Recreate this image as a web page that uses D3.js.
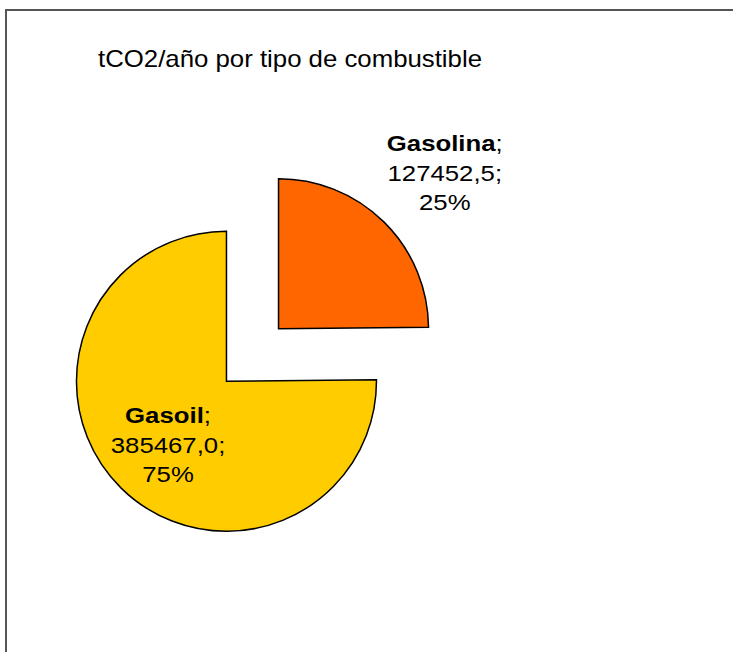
<!DOCTYPE html>
<html>
<head>
<meta charset="utf-8">
<script src="https://cdn.jsdelivr.net/npm/d3@7"></script>
<style>
  body { margin: 0; background: #fff; }
  text { font-family: "Liberation Sans", Arial, sans-serif; }
</style>
</head>
<body>
<div id="chart"></div>
<script>
// data
var categories = ["Gasolina", "Gasoil"];
var values = [127452.5, 385467.0];
var valueLabels = ["127452,5", "385467,0"];
var colors = ["#FF6600", "#FFCC00"];

var svgWidth = 733;
var svgHeight = 652;

var svg = d3.select("#chart")
  .append("svg")
  .attr("width", svgWidth)
  .attr("height", svgHeight);

// outer frame (right/bottom edges are cut off in the original)
svg.append("rect")
  .attr("x", 6)
  .attr("y", 10)
  .attr("width", 760)
  .attr("height", 700)
  .attr("fill", "none")
  .attr("stroke", "#555")
  .attr("stroke-width", 2);

svg.append("text")
  .attr("x", 98)
  .attr("y", 67)
  .style("font-size", "24px")
  .attr("textLength", 384)
  .attr("lengthAdjust", "spacingAndGlyphs")
  .attr("fill", "#000")
  .text("tCO2/año por tipo de combustible");

var cx = 252.5, cy = 355;
var radius = 150;
var explode = 37;
// label placement, measured from each slice's own centre
var labelDist = [222, 93];
var labelNudge = [[10, 10], [7, 6]];

var pie = d3.pie().sort(null).value(d => d);
var arcs = pie(values);

var arc = d3.arc().innerRadius(0).outerRadius(radius);

var total = d3.sum(values);

var pieGroup = svg.append("g")
  .attr("transform", `translate(${cx}, ${cy})`);

var slices = pieGroup.selectAll("g.slice")
  .data(arcs)
  .enter()
  .append("g")
  .attr("class", "slice")
  .attr("transform", d => {
    var mid = (d.startAngle + d.endAngle) / 2;
    return `translate(${Math.sin(mid) * explode}, ${-Math.cos(mid) * explode})`;
  });

slices.append("path")
  .attr("d", arc)
  .attr("fill", (d, i) => colors[i])
  .attr("stroke", "#000")
  .attr("stroke-width", 1.5);

// labels: name; value; percent
var labels = slices.append("text")
  .attr("text-anchor", "middle")
  .style("font-size", "23px")
  .attr("fill", "#000")
  .attr("transform", (d, i) => {
    var mid = (d.startAngle + d.endAngle) / 2;
    var x = Math.sin(mid) * labelDist[i] + labelNudge[i][0];
    var y = -Math.cos(mid) * labelDist[i] + labelNudge[i][1];
    return `translate(${x}, ${y}) scale(1.12, 1)`;
  });

labels.append("tspan")
  .attr("x", 0)
  .attr("y", -30)
  .each(function(d, i) {
    var t = d3.select(this);
    t.append("tspan").style("font-weight", "bold").text(categories[i]);
    t.append("tspan").text(";");
  });

labels.append("tspan")
  .attr("x", 0)
  .attr("y", 0)
  .text((d, i) => valueLabels[i] + ";");

labels.append("tspan")
  .attr("x", 0)
  .attr("y", 29)
  .text(d => Math.round(d.value / total * 100) + "%");
</script>
</body>
</html>
